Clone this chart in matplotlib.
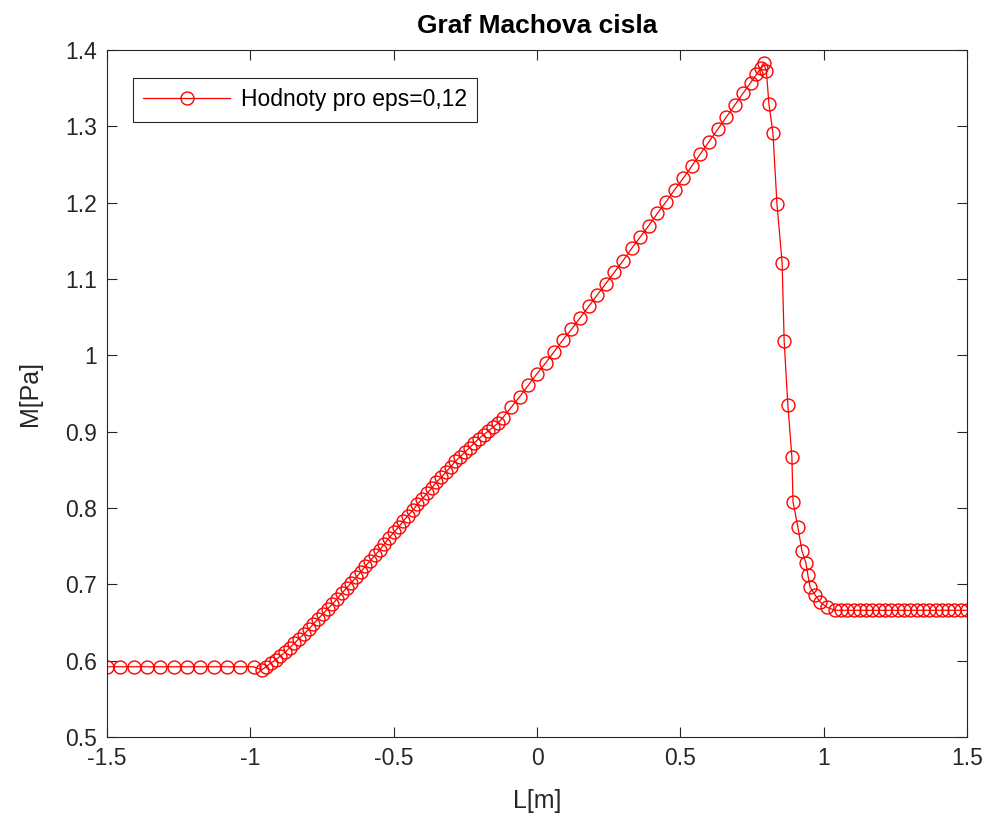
import matplotlib
matplotlib.use("Agg")
import matplotlib.pyplot as plt

plt.rcParams['font.family'] = ['Liberation Sans', 'DejaVu Sans']

# values, grouped by region of the curve
x_left = [-1.5, -1.454, -1.407, -1.361, -1.314, -1.268, -1.221, -1.175,
          -1.128, -1.082, -1.035, -0.989, -0.96]
m_left = [0.592, 0.592, 0.592, 0.592, 0.592, 0.592, 0.592, 0.592,
          0.592, 0.592, 0.592, 0.592, 0.588]

x_rise1 = [-0.945, -0.9285, -0.912, -0.8955, -0.879, -0.8625, -0.846, -0.8295,
           -0.813, -0.7965, -0.78, -0.7635, -0.747, -0.7305, -0.714, -0.6975,
           -0.681, -0.6645, -0.648, -0.6315, -0.615, -0.5985, -0.582, -0.5655,
           -0.549, -0.5325, -0.516, -0.4995, -0.483, -0.4665, -0.45, -0.4335,
           -0.417, -0.4005, -0.384, -0.3675, -0.351, -0.3345, -0.318, -0.3015,
           -0.285, -0.2685, -0.252, -0.2355, -0.219, -0.2025, -0.186, -0.1695,
           -0.153, -0.1365]
m_rise1 = [0.592, 0.597, 0.601, 0.606, 0.611, 0.617, 0.623, 0.629,
           0.635, 0.641, 0.648, 0.655, 0.661, 0.668, 0.674, 0.681,
           0.688, 0.695, 0.702, 0.709, 0.716, 0.724, 0.731, 0.738,
           0.745, 0.753, 0.761, 0.768, 0.775, 0.783, 0.790, 0.797,
           0.805, 0.812, 0.819, 0.826, 0.834, 0.840, 0.847, 0.854,
           0.861, 0.867, 0.873, 0.879, 0.885, 0.891, 0.896, 0.901,
           0.906, 0.911]

x_rise2 = [-0.12, -0.09, -0.06, -0.03, 0.0, 0.03, 0.06, 0.09, 0.12, 0.15,
           0.18, 0.21, 0.24, 0.27, 0.30, 0.33, 0.36, 0.39, 0.42, 0.45,
           0.48, 0.51, 0.54, 0.57, 0.60, 0.63, 0.66, 0.69, 0.72, 0.745,
           0.765, 0.78, 0.79]
m_rise2 = [0.918, 0.932, 0.946, 0.961, 0.976, 0.990, 1.005, 1.020, 1.034, 1.049,
           1.064, 1.079, 1.094, 1.109, 1.124, 1.140, 1.155, 1.170, 1.186, 1.201,
           1.217, 1.232, 1.248, 1.264, 1.280, 1.296, 1.312, 1.328, 1.344, 1.357,
           1.368, 1.376, 1.383]

x_drop = [0.80, 0.809, 0.823, 0.837, 0.855, 0.862, 0.875, 0.889, 0.893, 0.91,
          0.924, 0.938, 0.945, 0.952, 0.97, 0.987, 1.011, 1.039]
m_drop = [1.372, 1.329, 1.291, 1.198, 1.121, 1.019, 0.935, 0.867, 0.808, 0.775,
          0.744, 0.728, 0.712, 0.697, 0.686, 0.677, 0.670, 0.666]

x_right = [1.06, 1.082, 1.104, 1.126, 1.148, 1.17, 1.192, 1.214, 1.236, 1.258,
           1.28, 1.302, 1.324, 1.346, 1.368, 1.39, 1.412, 1.434, 1.456, 1.478, 1.5]
m_right = [0.666] * len(x_right)

L = x_left + x_rise1 + x_rise2 + x_drop + x_right
M = m_left + m_rise1 + m_rise2 + m_drop + m_right

xticks = [-1.5, -1, -0.5, 0, 0.5, 1, 1.5]
xticklabels = ['-1.5', '-1', '-0.5', '0', '0.5', '1', '1.5']
yticks = [0.5, 0.6, 0.7, 0.8, 0.9, 1.0, 1.1, 1.2, 1.3, 1.4]
yticklabels = ['0.5', '0.6', '0.7', '0.8', '0.9', '1', '1.1', '1.2', '1.3', '1.4']

axcol = '#262626'

fig = plt.figure(figsize=(9.89, 8.22), dpi=100)
ax = fig.add_axes([0.1082, 0.1034, 0.8696, 0.8358])
ax.plot(L, M, '-o', color='red', lw=0.9, ms=9.3, mfc='none', mew=1.0,
        label='Hodnoty pro eps=0,12')

ax.set_xlim(-1.5, 1.5)
ax.set_ylim(0.5, 1.4)
ax.set_xticks(xticks)
ax.set_xticklabels(xticklabels)
ax.set_yticks(yticks)
ax.set_yticklabels(yticklabels)
ax.tick_params(direction='in', length=7, width=0.8, colors=axcol, labelsize=16.5,
               top=True, right=True, pad=7)
for s in ax.spines.values():
    s.set_color(axcol)
    s.set_linewidth(0.8)

ax.set_title('Graf Machova cisla', fontsize=19, fontweight='bold', color='black', pad=12)
ax.set_xlabel('L[m]', fontsize=18, color=axcol, labelpad=14)
ax.set_ylabel('M[Pa]', fontsize=18, color=axcol, labelpad=17)

leg = ax.legend(loc='upper left', bbox_to_anchor=(0.03, 0.959), borderaxespad=0,
                fontsize=16.5, fancybox=False, framealpha=1, edgecolor=axcol,
                handlelength=3.8, borderpad=0.45, handletextpad=0.45)
leg.get_frame().set_linewidth(0.8)

fig.savefig('out.png', dpi=100)
